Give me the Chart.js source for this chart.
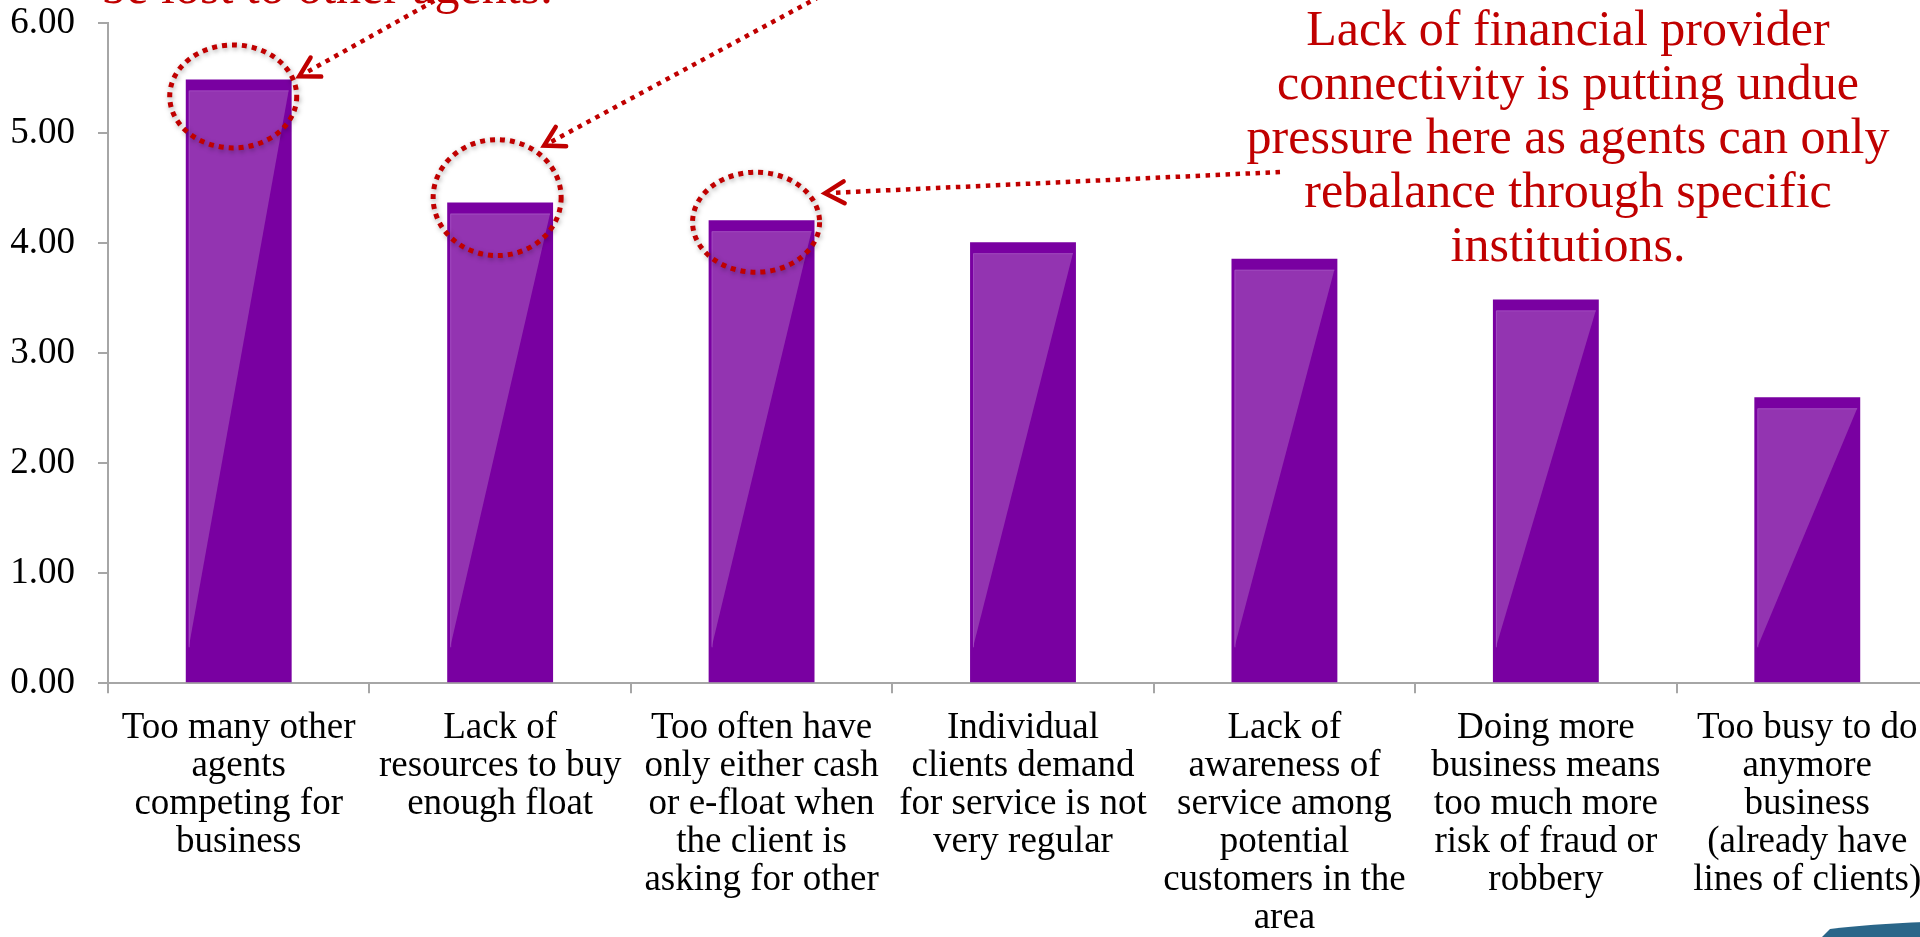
<!DOCTYPE html>
<html>
<head>
<meta charset="utf-8">
<script src="https://cdn.jsdelivr.net/npm/chart.js@4/dist/chart.umd.min.js"></script>
<style>
html, body { margin: 0; padding: 0; overflow: hidden; background: #ffffff; }
#wrap { width: 1960px; height: 937px; }
canvas { display: block; }
</style>
</head>
<body>
<div id="wrap"><canvas id="c" width="1960" height="937"></canvas></div>
<script>
// ---- data ----
const categories = [
  ["Too many other", "agents", "competing for", "business"],
  ["Lack of", "resources to buy", "enough float"],
  ["Too often have", "only either cash", "or e-float when", "the client is", "asking for other"],
  ["Individual", "clients demand", "for service is not", "very regular"],
  ["Lack of", "awareness of", "service among", "potential", "customers in the", "area"],
  ["Doing more", "business means", "too much more", "risk of fraud or", "robbery"],
  ["Too busy to do", "anymore", "business", "(already have", "lines of clients)"]
];
const values = [5.49, 4.37, 4.21, 4.01, 3.86, 3.49, 2.60];
const yTickLabels = ["0.00", "1.00", "2.00", "3.00", "4.00", "5.00", "6.00"];
const noteRight = [
  "Lack of financial provider",
  "connectivity is putting undue",
  "pressure here as agents can only",
  "rebalance through specific",
  "institutions."
];
const noteLeft = ["be lost to other agents."];
const circledBars = [0, 1, 2];

// ---- styling ----
const SERIF = "'Liberation Serif', 'Times New Roman', serif";
const RED = '#C00000';
const DARK = '#7900A1';
const LIGHT = '#9334B1';
const AXIS = '#a6a6a6';

const ellipseStyle = [
  { dx: -5.5, dy: 17, rx: 63.5, ry: 51.5 },
  { dx: -3, dy: -5, rx: 64, ry: 58 },
  { dx: -5.5, dy: 2, rx: 63.5, ry: 50 }
];
// arrows: tip relative to bar top, tail absolute
const arrowStyle = [
  { bar: 0, tdx: 60.5, tdy: -3, tail: [443, -4] },
  { bar: 1, tdx: 44, tdy: -57, tail: [828, -8] },
  { bar: 2, tdx: 63.5, tdy: -27, tail: [1280, 172] }
];

const decor = {
  id: 'decor',
  afterDatasetsDraw(chart) {
    const ctx = chart.ctx;
    const meta = chart.getDatasetMeta(0);
    meta.data.forEach(bar => {
      const p = bar.getProps(['x', 'y', 'base', 'width'], true);
      const L = p.x - p.width / 2, R = p.x + p.width / 2;
      ctx.save();
      ctx.fillStyle = LIGHT;
      ctx.beginPath();
      ctx.moveTo(L + 3, p.y + 11);
      ctx.lineTo(R - 3, p.y + 11);
      ctx.lineTo(L + 3, p.base - 35);
      ctx.closePath();
      ctx.fill();
      ctx.strokeStyle = 'rgba(170,90,200,0.6)';
      ctx.lineWidth = 1;
      ctx.beginPath();
      ctx.moveTo(L + 3.5, p.base - 35);
      ctx.lineTo(L + 3.5, p.y + 11.5);
      ctx.lineTo(R - 3, p.y + 11.5);
      ctx.stroke();
      ctx.restore();
    });
  },
  afterDraw(chart) {
    const ctx = chart.ctx;
    const meta = chart.getDatasetMeta(0);
    circledBars.forEach((bi, k) => {
      const bar = meta.data[bi];
      const s = ellipseStyle[k];
      ctx.save();
      ctx.shadowColor = 'rgba(0,0,0,0.35)';
      ctx.shadowBlur = 5;
      ctx.shadowOffsetX = 1;
      ctx.shadowOffsetY = 2;
      ctx.strokeStyle = RED;
      ctx.lineWidth = 5;
      ctx.setLineDash([5, 5]);
      ctx.beginPath();
      ctx.ellipse(bar.x + s.dx, bar.y + s.dy, s.rx, s.ry, 0, 0, Math.PI * 2);
      ctx.stroke();
      ctx.restore();
    });
    arrowStyle.forEach(a => {
      const bar = meta.data[a.bar];
      const tx = bar.x + a.tdx, ty = bar.y + a.tdy;
      const [sx, sy] = a.tail;
      const ang = Math.atan2(sy - ty, sx - tx);
      ctx.save();
      ctx.strokeStyle = RED;
      ctx.lineWidth = 4.5;
      ctx.setLineDash([4.5, 5.5]);
      ctx.beginPath();
      ctx.moveTo(sx, sy);
      ctx.lineTo(tx + 6 * Math.cos(ang), ty + 6 * Math.sin(ang));
      ctx.stroke();
      ctx.setLineDash([]);
      ctx.lineWidth = 4.5;
      ctx.lineCap = 'round';
      ctx.beginPath();
      ctx.moveTo(tx + 22 * Math.cos(ang + 0.52), ty + 22 * Math.sin(ang + 0.52));
      ctx.lineTo(tx, ty);
      ctx.lineTo(tx + 22 * Math.cos(ang - 0.52), ty + 22 * Math.sin(ang - 0.52));
      ctx.stroke();
      ctx.restore();
    });
    ctx.save();
    ctx.fillStyle = RED;
    ctx.font = "50px " + SERIF;
    ctx.textAlign = 'center';
    ctx.textBaseline = 'alphabetic';
    noteRight.forEach((t, i) => ctx.fillText(t, 1568, 45 + 54.1 * i));
    noteLeft.forEach((t, i) => ctx.fillText(t, 327, 3 - 54.1 * (noteLeft.length - 1 - i)));
    ctx.restore();
    ctx.save();
    ctx.fillStyle = '#2a6689';
    ctx.beginPath();
    ctx.moveTo(1822, 937);
    ctx.lineTo(1830, 929);
    ctx.quadraticCurveTo(1870, 924, 1925, 922);
    ctx.lineTo(1925, 937);
    ctx.closePath();
    ctx.fill();
    ctx.restore();
  }
};

new Chart(document.getElementById('c'), {
  type: 'bar',
  data: {
    labels: categories,
    datasets: [{
      data: values,
      backgroundColor: DARK,
      borderWidth: 0,
      barPercentage: 0.405,
      categoryPercentage: 1.0
    }]
  },
  options: {
    responsive: false,
    animation: false,
    devicePixelRatio: 1,
    layout: { padding: { top: 23.3, right: 22, left: 0, bottom: 0 } },
    plugins: { legend: { display: false }, tooltip: { enabled: false } },
    scales: {
      x: {
        type: 'category',
        offset: true,
        grid: { display: true, drawOnChartArea: false, drawTicks: true, tickLength: 10, color: AXIS, lineWidth: 2, offset: true },
        border: { display: true, color: AXIS, width: 2 },
        ticks: {
          autoSkip: false, maxRotation: 0, minRotation: 0, padding: 16, color: '#000000',
          font: { family: SERIF, size: 37, lineHeight: 38 / 37 }
        },
        afterFit(s) { s.height = 937 - 683.3; s.paddingLeft = 0; s.paddingRight = 0; }
      },
      y: {
        min: 0, max: 6,
        grid: { display: true, drawOnChartArea: false, drawTicks: true, tickLength: 10, color: AXIS, lineWidth: 2 },
        border: { display: true, color: AXIS, width: 2 },
        ticks: {
          stepSize: 1, padding: 23, color: '#000000',
          font: { family: SERIF, size: 37 },
          callback: (v, i) => yTickLabels[i]
        },
        afterFit(s) { s.width = 108; s.paddingTop = 0; s.paddingBottom = 0; }
      }
    }
  },
  plugins: [decor]
});
</script>
</body>
</html>
